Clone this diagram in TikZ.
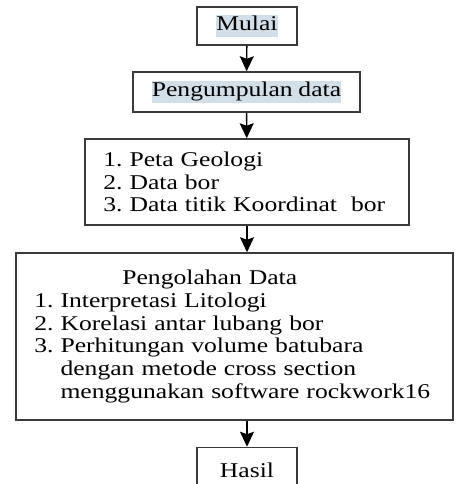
\documentclass[tikz,border=0pt]{standalone}
\usepackage{fontspec}
\setmainfont{Liberation Serif}[FakeStretch=1.22, WordSpace=0.9]
\frenchspacing
\usetikzlibrary{arrows.meta, positioning}
\definecolor{cline}{HTML}{3A3A3A}
\definecolor{chl}{HTML}{D2DEE8}
\newcommand{\hlt}[1]{{\setlength{\fboxsep}{0pt}\colorbox{chl}{\strut #1}}}
\tikzset{
  every picture/.style={font=\fontsize{12.6}{13.6}\selectfont, line width=0.9pt},
  box/.style={draw=cline, align=center, inner sep=0pt},
  arrow/.style={-{Stealth[length=9pt, width=8.4pt, inset=1.5pt]}, draw=black, line width=0.8pt},
}

\begin{document}
\begin{tikzpicture}[x=0.6pt, y=-0.6pt,
  list/.style={box, align=left, inner xsep=11pt, execute at begin node={\hyphenpenalty=10000}}]
  \useasboundingbox (0, 0) rectangle (454, 484);
  \node[box, minimum width=60pt, minimum height=22.8pt] (mulai) at (247, 26) {\hlt{Mulai}};
  \node[box, minimum width=136.2pt, minimum height=24pt] (kumpul) at (246.5, 92) {\hlt{Pengumpulan data}};
  \node[list, minimum width=194.4pt, minimum height=51.6pt, text width=172.4pt] (data) at (247, 182)
    {1. Peta Geologi\\ 2. Data bor\\ 3. Data titik Koordinat\ \ bor};
  \node[list, minimum width=262.2pt, minimum height=100.2pt, text width=240.2pt] (olah) at (234.5, 336.5)
    {\hspace*{52.8pt}Pengolahan Data\\
     1. Interpretasi Litologi\\
     2. Korelasi antar lubang bor\\
     3. Perhitungan volume batubara\\
     \hphantom{3. }dengan metode cross section\\
     \hphantom{3. }menggunakan software rockwork16};
  \node[box, minimum width=60pt, minimum height=27pt] (hasil) at (247, 470) {Hasil};
  % arrows between steps
  \draw[arrow] (mulai) -- (kumpul);
  \draw[arrow] (kumpul) -- (data);
  \draw[arrow] (data.south) -- (data.south |- olah.north);
  \draw[arrow] (hasil.north |- olah.south) -- (hasil.north);
\end{tikzpicture}
\end{document}
